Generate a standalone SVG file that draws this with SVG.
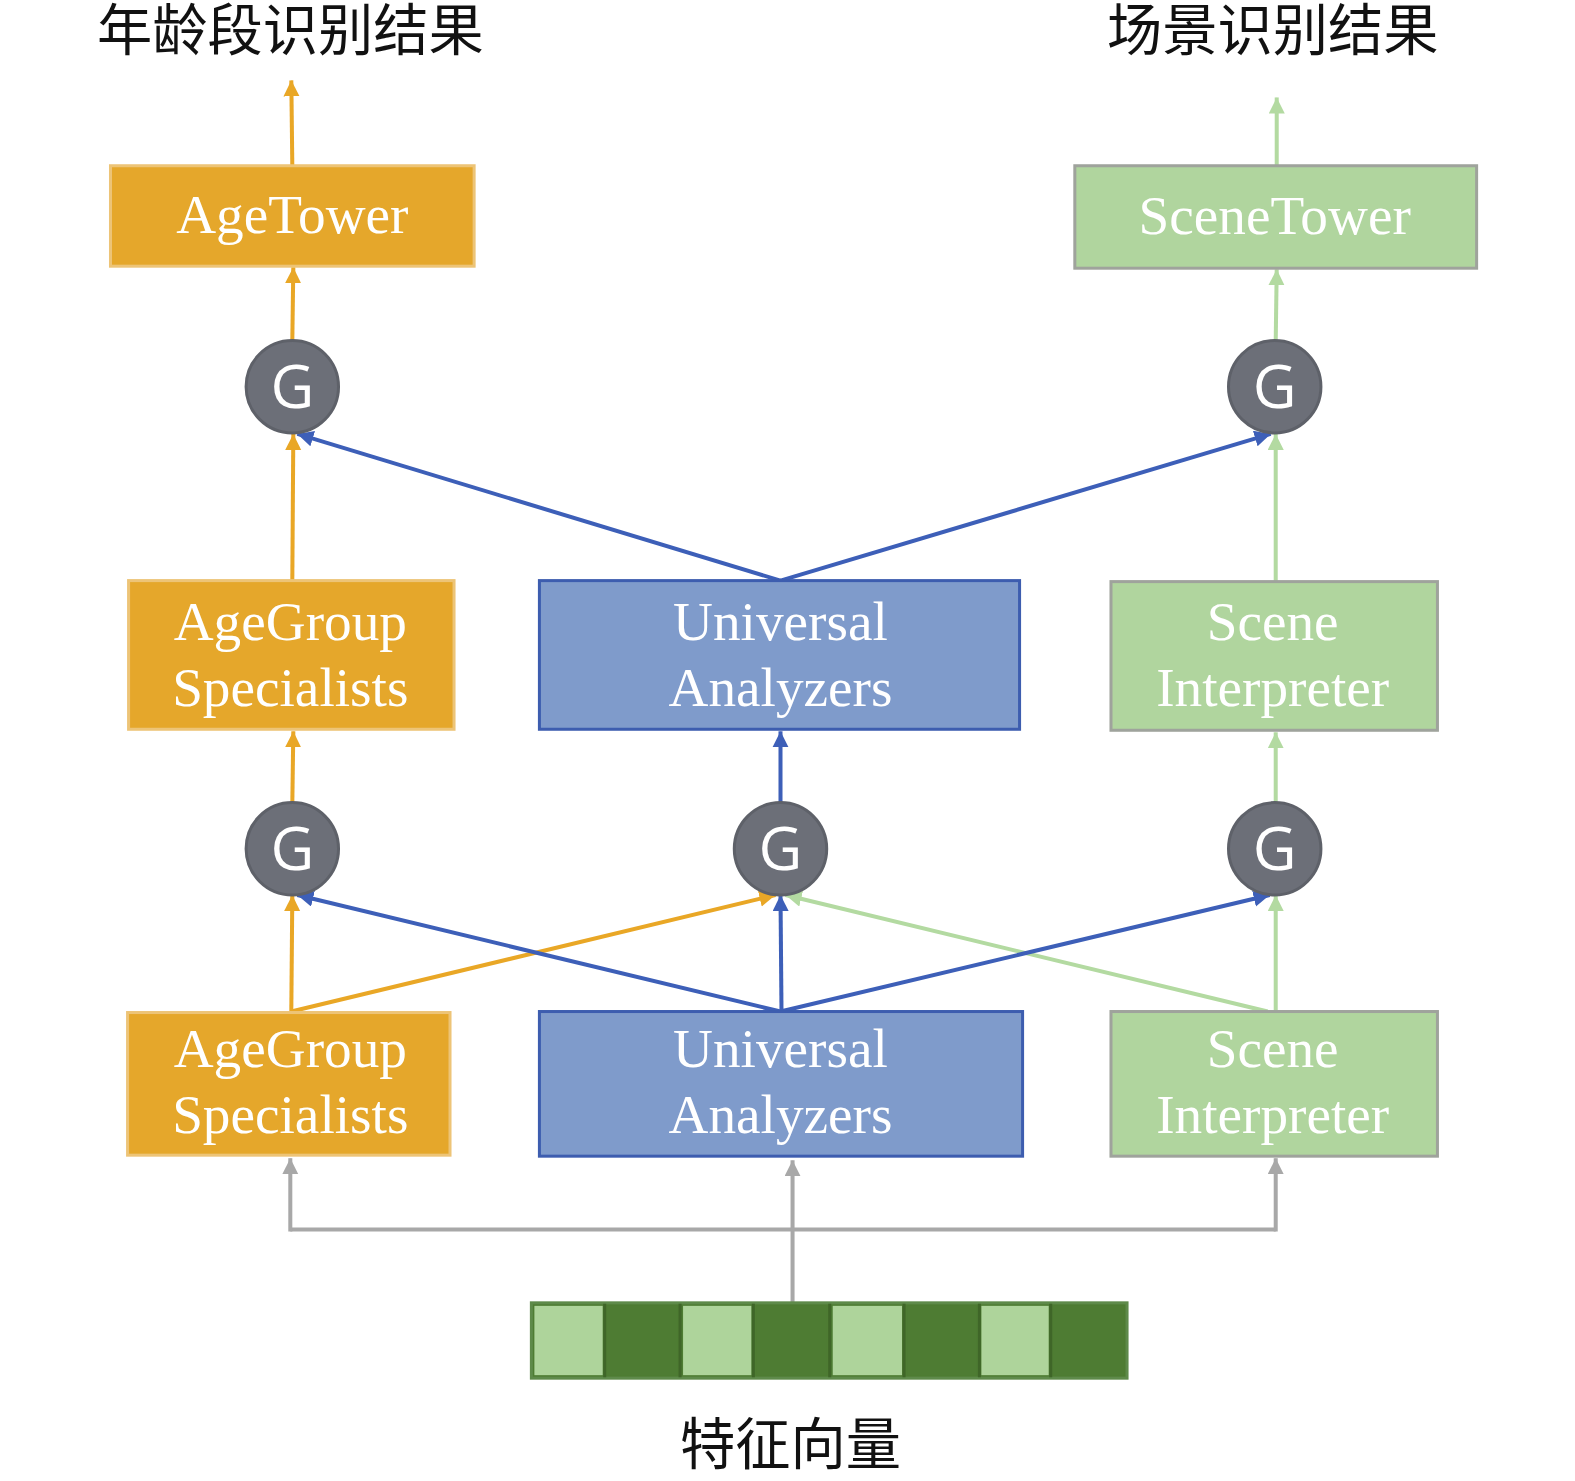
<svg xmlns="http://www.w3.org/2000/svg" width="1575" height="1481" viewBox="0 0 1575 1481">
<style>
.title{font-family:"Noto Sans CJK SC","Noto Sans CJK JP",sans-serif;font-size:55px;fill:#111;text-anchor:middle}
.lbl{font-family:"Liberation Serif","Times New Roman",serif;font-size:55px;fill:#fff;text-anchor:middle}
.orange{fill:#E5A72B;stroke:#EDC477;stroke-width:3}
.blue{fill:#7F9BCB;stroke:#3D5DAF;stroke-width:3}
.green{fill:#B0D59E;stroke:#9FA39C;stroke-width:3}
.gate{fill:#6C6F78;stroke:#5E6169;stroke-width:3}
.gtxt{font-family:"Open Sans","DejaVu Sans",sans-serif;font-size:60px;fill:#fff;text-anchor:middle}
.co{stroke:#E9A726;stroke-width:4;fill:none}
.cb{stroke:#3D5FB8;stroke-width:4;fill:none}
.cg{stroke:#B3DAA1;stroke-width:4;fill:none}
.cy{stroke:#A8A8A8;stroke-width:4;fill:none}
.lt{fill:#AED49B}
.dk{fill:#4E7C33}
</style>
<defs>
<marker id="ao" markerUnits="userSpaceOnUse" markerWidth="18" markerHeight="18" refX="16" refY="8" orient="auto"><path d="M0,0 L16,8 L0,16 Z" fill="#E9A726"/></marker>
<marker id="ab" markerUnits="userSpaceOnUse" markerWidth="18" markerHeight="18" refX="16" refY="8" orient="auto"><path d="M0,0 L16,8 L0,16 Z" fill="#3D5FB8"/></marker>
<marker id="ag" markerUnits="userSpaceOnUse" markerWidth="18" markerHeight="18" refX="16" refY="8" orient="auto"><path d="M0,0 L16,8 L0,16 Z" fill="#B3DAA1"/></marker>
<marker id="ay" markerUnits="userSpaceOnUse" markerWidth="18" markerHeight="18" refX="16" refY="8" orient="auto"><path d="M0,0 L16,8 L0,16 Z" fill="#A8A8A8"/></marker>
</defs>
<g transform="scale(1.0045)">
<g id="connectors">
<path class="co" d="M291,165 L290,80" marker-end="url(#ao)"/>
<path class="cg" d="M1271,165 L1271,97" marker-end="url(#ag)"/>
<path class="co" d="M291,340 L292,266" marker-end="url(#ao)"/>
<path class="cg" d="M1270,340 L1271,268" marker-end="url(#ag)"/>
<path class="co" d="M291,578 L292,432" marker-end="url(#ao)"/>
<path class="cb" d="M777,578 L296,432" marker-end="url(#ab)"/>
<path class="cb" d="M777,578 L1265,432" marker-end="url(#ab)"/>
<path class="cg" d="M1270,579 L1270,432" marker-end="url(#ag)"/>
<path class="co" d="M291,800 L292,728" marker-end="url(#ao)"/>
<path class="cb" d="M777,800 L777,728" marker-end="url(#ab)"/>
<path class="cg" d="M1270,800 L1270,729" marker-end="url(#ag)"/>
<path class="cg" d="M1262,1007 L782,891" marker-end="url(#ag)"/>
<path class="co" d="M290,1007 L772,891" marker-end="url(#ao)"/>
<path class="co" d="M290,1007 L291,891" marker-end="url(#ao)"/>
<path class="cb" d="M777,1007 L296,891" marker-end="url(#ab)"/>
<path class="cb" d="M777,1007 L1264,891" marker-end="url(#ab)"/>
<path class="cb" d="M778,1007 L777,891" marker-end="url(#ab)"/>
<path class="cg" d="M1270,1007 L1270,891" marker-end="url(#ag)"/>
<path class="cy" d="M789,1297 L789,1155" marker-end="url(#ay)"/>
<path class="cy" d="M289,1224 L1270,1224"/>
<path class="cy" d="M289,1226 L289,1153" marker-end="url(#ay)"/>
<path class="cy" d="M1270,1226 L1270,1153" marker-end="url(#ay)"/>
</g>

<g id="title-age"><text class="title" x="289" y="50">年龄段识别结果</text></g>
<g id="title-scene"><text class="title" x="1267" y="50">场景识别结果</text></g>

<g id="age-tower"><rect class="orange" x="110" y="165" width="362" height="100"/><text class="lbl" x="291" y="232">AgeTower</text></g>
<g id="scene-tower"><rect class="green" x="1070" y="165" width="400" height="102"/><text class="lbl" x="1269" y="233">SceneTower</text></g>

<g id="gate-top-age"><circle class="gate" cx="291" cy="385" r="46"/><text class="gtxt" x="291" y="406">G</text></g>
<g id="gate-top-scene"><circle class="gate" cx="1269" cy="385" r="46"/><text class="gtxt" x="1269" y="406">G</text></g>

<g id="age-specialists-2"><rect class="orange" x="128" y="578" width="324" height="148"/><text class="lbl" x="289" y="637">AgeGroup</text><text class="lbl" x="289" y="703">Specialists</text></g>
<g id="universal-2"><rect class="blue" x="537" y="578" width="478" height="148"/><text class="lbl" x="777" y="637">Universal</text><text class="lbl" x="777" y="703">Analyzers</text></g>
<g id="scene-interp-2"><rect class="green" x="1106" y="579" width="325" height="148"/><text class="lbl" x="1267" y="637">Scene</text><text class="lbl" x="1267" y="703">Interpreter</text></g>

<g id="gate-mid-age"><circle class="gate" cx="291" cy="845" r="46"/><text class="gtxt" x="291" y="866">G</text></g>
<g id="gate-mid-universal"><circle class="gate" cx="777" cy="845" r="46"/><text class="gtxt" x="777" y="866">G</text></g>
<g id="gate-mid-scene"><circle class="gate" cx="1269" cy="845" r="46"/><text class="gtxt" x="1269" y="866">G</text></g>

<g id="age-specialists-1"><rect class="orange" x="127" y="1008" width="321" height="142"/><text class="lbl" x="289" y="1062">AgeGroup</text><text class="lbl" x="289" y="1128">Specialists</text></g>
<g id="universal-1"><rect class="blue" x="537" y="1007" width="481" height="144"/><text class="lbl" x="777" y="1062">Universal</text><text class="lbl" x="777" y="1128">Analyzers</text></g>
<g id="scene-interp-1"><rect class="green" x="1106" y="1007" width="325" height="144"/><text class="lbl" x="1267" y="1062">Scene</text><text class="lbl" x="1267" y="1128">Interpreter</text></g>

<g id="feature-vector">
<rect x="529" y="1297" width="593" height="75" fill="#4E7C33" stroke="#5E8A4A" stroke-width="3"/>
<rect class="lt" x="532" y="1300" width="68" height="69"/>
<rect class="dk" x="604" y="1300" width="70" height="69"/>
<rect class="lt" x="680" y="1300" width="68" height="69"/>
<rect class="dk" x="753" y="1300" width="70" height="69"/>
<rect class="lt" x="829" y="1300" width="69" height="69"/>
<rect class="dk" x="903" y="1300" width="69" height="69"/>
<rect class="lt" x="977" y="1300" width="67" height="69"/>
<rect class="dk" x="1049" y="1300" width="70" height="69"/>
<path d="M602,1298 V1371 M677,1298 V1371 M750,1298 V1371 M826,1298 V1371 M900,1298 V1371 M975,1298 V1371 M1046,1298 V1371" stroke="#3F6628" stroke-width="3"/>
</g>
<g id="feature-label"><text class="title" x="787" y="1457">特征向量</text></g>
</g>
</svg>
